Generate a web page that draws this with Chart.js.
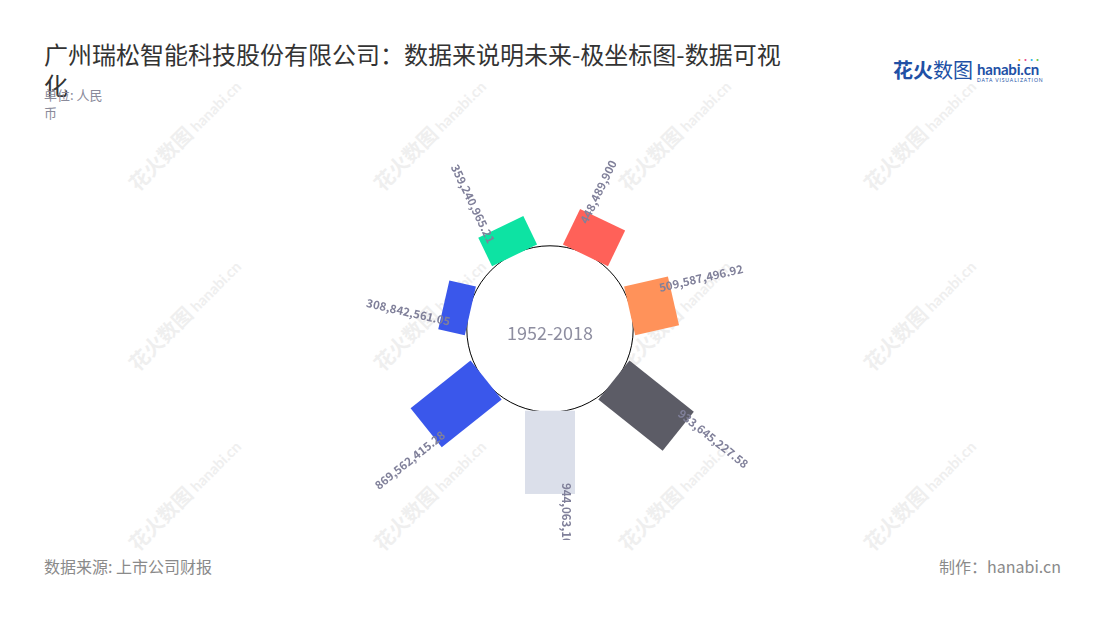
<!DOCTYPE html>
<html>
<head>
<meta charset="utf-8">
<script src="https://cdn.jsdelivr.net/npm/chart.js@4/dist/chart.umd.min.js"></script>
<style>
  html, body { margin: 0; padding: 0; background: #ffffff; }
  #wrap { position: relative; width: 1100px; height: 620px; overflow: hidden;
          font-family: "Noto Sans CJK SC", "Noto Sans", sans-serif; }
  #title { position: absolute; left: 44px; top: 38px; width: 748px; font-size: 24px;
           line-height: 31px; color: #333333; white-space: normal; }
  #unit { position: absolute; left: 44px; top: 86px; width: 64px; font-size: 13px;
          line-height: 17.5px; color: #8a8a9a; }
  #source { position: absolute; left: 44px; top: 556px; font-size: 16px; line-height: 20px; color: #8a8a8a; }
  #maker { position: absolute; right: 39px; top: 556px; font-size: 16px; line-height: 20px; color: #8a8a8a; }
  #logo { position: absolute; left: 893px; top: 58px; height: 26px; white-space: nowrap; }
  #logo .cn { font-size: 20px; line-height: 24px; color: #2150a5; display: inline-block; vertical-align: top; }
  #logo .cn b { font-weight: 700; }
  #logo .en { display: inline-block; vertical-align: top; margin-left: 4px; position: relative; }
  #logo .en .h { font-family: Lato, "Open Sans", sans-serif; font-weight: 700; font-size: 15px; line-height: 16px;
                 color: #2150a5; display: block; margin-top: 3px; letter-spacing: -0.2px; }
  #logo .en .s { font-family: Lato, sans-serif; font-size: 5px; line-height: 6px; color: #2150a5;
                 display: block; letter-spacing: 0.9px; }
  #logo .dots { position: absolute; left: 38px; top: -2px; font-size: 9px; line-height: 8px; letter-spacing: -3px; }
  .wm { position: absolute; white-space: nowrap; transform: translate(-50%, -50%) rotate(-45deg);
        color: #efefef; font-size: 20px; line-height: 22px; font-weight: 700; }
  .wm .e { font-family: Lato, sans-serif; font-weight: 700; font-size: 15px; margin-left: 4px; }
  #chartBox { position: absolute; left: 0; top: 140px; width: 1100px; height: 400px; }
</style>
</head>
<body>
<div id="wrap">
  <div id="wms"></div>
  <div id="title">广州瑞松智能科技股份有限公司：数据来说明未来-极坐标图-数据可视化</div>
  <div id="unit">单位: 人民币</div>
  <div id="logo">
    <span class="cn"><b>花火</b>数图</span><span class="en"><span class="dots"><span style="color:#f5a623">•</span><span style="color:#e94b8a">•</span><span style="color:#2bb5e8">•</span><span style="color:#6cc644">•</span></span><span class="h">hanabi.cn</span><span class="s">DATA VISUALIZATION</span></span>
  </div>
  <div id="chartBox"><canvas id="c" width="1100" height="400"></canvas></div>
  <div id="source">数据来源: 上市公司财报</div>
  <div id="maker">制作：hanabi.cn</div>
</div>
<script>
// ---------------- data ----------------
const categories = ['1', '2', '3', '4', '5', '6', '7'];
const values = [448489900, 509587496.92, 933645227.58, 944063100, 869562415.28, 308842561.05, 359240965.21];
const centerLabel = '1952-2018';
const colors = ['#FF6159', '#FF925A', '#5C5C66', '#DBDFEA', '#3A57EB', '#3A57EB', '#0DE3A3'];

// ---------------- watermark (decoration) ----------------
(function () {
  const host = document.getElementById('wms');
  const xs = [185, 430, 675, 920];
  const ys = [135, 315, 495];
  ys.forEach(y => xs.forEach(x => {
    const d = document.createElement('div');
    d.className = 'wm';
    d.style.left = x + 'px';
    d.style.top = y + 'px';
    d.innerHTML = '花火数图<span class="e">hanabi.cn</span>';
    host.appendChild(d);
  }));
})();

// ---------------- custom element: rectangular radial bar ----------------
class RectBar extends Chart.ArcElement {
  draw(ctx) {
    const p = this.getProps(['x', 'y', 'startAngle', 'endAngle', 'innerRadius', 'outerRadius']);
    const mid = (p.startAngle + p.endAngle) / 2;
    const w = this.options.barWidth || 50;
    ctx.save();
    ctx.translate(p.x, p.y);
    ctx.rotate(mid);
    ctx.fillStyle = this.options.backgroundColor;
    ctx.fillRect(p.innerRadius, -w / 2, Math.max(0, p.outerRadius - p.innerRadius), w);
    ctx.restore();
  }
}
RectBar.id = 'rectBar';
RectBar.defaults = Object.assign({}, Chart.ArcElement.defaults, { barWidth: 50 });

class RectPolar extends Chart.PolarAreaController {
  updateElement(element, index, properties, mode) {
    if (properties) {
      properties.innerRadius = this._cachedMeta.rScale.getDistanceFromCenterForValue(0);
    }
    super.updateElement(element, index, properties, mode);
  }
}
RectPolar.id = 'rectPolar';
RectPolar.defaults = Object.assign({}, Chart.PolarAreaController.defaults, { dataElementType: 'rectBar' });

Chart.register(RectBar, RectPolar);

const fmt = v => v.toLocaleString('en-US', { maximumFractionDigits: 2 });

const decor = {
  id: 'decor',
  beforeDatasetsDraw(chart) {
    const s = chart.scales.r;
    const ctx = chart.ctx;
    const r0 = s.getDistanceFromCenterForValue(0) + 1.5;
    ctx.save();
    ctx.beginPath();
    ctx.arc(s.xCenter, s.yCenter, r0, 0, Math.PI * 2);
    ctx.fillStyle = '#ffffff';
    ctx.fill();
    ctx.lineWidth = 1;
    ctx.strokeStyle = '#000000';
    ctx.stroke();
    ctx.font = '18px "Noto Sans CJK SC", "Noto Sans", sans-serif';
    ctx.fillStyle = '#8e8ea0';
    ctx.textAlign = 'center';
    ctx.textBaseline = 'middle';
    ctx.fillText(centerLabel, s.xCenter, s.yCenter + 4);
    ctx.restore();
  },
  afterDatasetsDraw(chart) {
    const ctx = chart.ctx;
    const meta = chart.getDatasetMeta(0);
    const data = chart.data.datasets[0].data;
    ctx.save();
    ctx.font = 'bold 11.5px "Noto Sans CJK SC", "Noto Sans", sans-serif';
    ctx.fillStyle = '#80809a';
    ctx.textBaseline = 'middle';
    meta.data.forEach((el, i) => {
      const mid = (el.startAngle + el.endAngle) / 2;
      const text = fmt(data[i]);
      ctx.save();
      ctx.translate(el.x, el.y);
      if (Math.cos(mid) > -1e-6) {
        ctx.rotate(mid);
        ctx.textAlign = 'left';
        ctx.fillText(text, el.outerRadius - 11, -16);
      } else {
        ctx.rotate(mid + Math.PI);
        ctx.textAlign = 'right';
        ctx.fillText(text, -(el.outerRadius - 10), 15);
      }
      ctx.restore();
    });
    ctx.restore();
  }
};

new Chart(document.getElementById('c'), {
  type: 'rectPolar',
  data: {
    labels: categories,
    datasets: [{
      data: values,
      backgroundColor: colors,
      borderWidth: 0,
      barWidth: 50
    }]
  },
  options: {
    responsive: false,
    animation: false,
    events: [],
    devicePixelRatio: 1,
    layout: { padding: { top: 0, bottom: 22, left: 0, right: 0 } },
    scales: {
      r: {
        display: false,
        min: -926300000,
        max: 1216600000,
        ticks: { display: false },
        grid: { display: false },
        angleLines: { display: false },
        pointLabels: { display: false }
      }
    },
    plugins: {
      legend: { display: false },
      tooltip: { enabled: false },
      title: { display: false }
    }
  },
  plugins: [decor]
});
</script>
</body>
</html>
